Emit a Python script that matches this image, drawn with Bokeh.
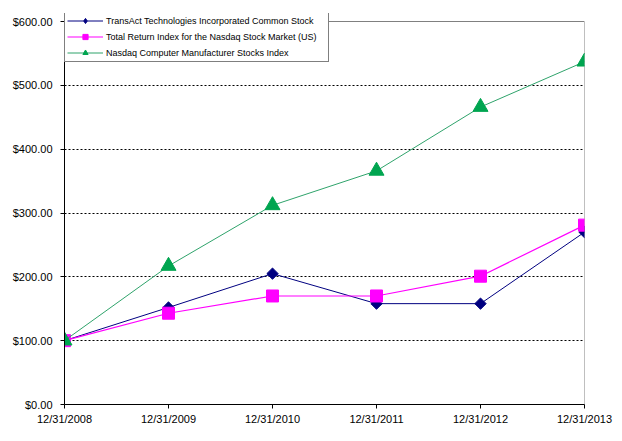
import math
from bokeh.plotting import figure
from bokeh.models import Range1d, FixedTicker, NumeralTickFormatter, Legend, LegendItem, Span
from bokeh.embed import file_html
from bokeh.resources import INLINE

dates = ["12/31/2008", "12/31/2009", "12/31/2010", "12/31/2011", "12/31/2012", "12/31/2013"]
transact = [100, 152, 205, 158, 158, 270]
nasdaq_total = [100, 143, 170, 170, 201, 281]
nasdaq_computer = [100, 217, 312, 366, 466, 537]
y_ticks = [0, 100, 200, 300, 400, 500, 600]

names = [
    "TransAct Technologies Incorporated Common Stock",
    "Total Return Index for the Nasdaq Stock Market (US)",
    "Nasdaq Computer Manufacturer Stocks Index",
]

x = list(range(len(dates)))
FONT = "Liberation Sans"

# frame extends 8px above the $600 line so the legend can overlap it
y_top = y_ticks[-1] * 391.0 / 383.0

p = figure(width=614, height=433, output_backend="svg", toolbar_location=None,
           x_range=Range1d(0, len(dates) - 1), y_range=Range1d(0, y_top))
p.min_border_left = 64
p.min_border_right = 30
p.min_border_top = 13
p.min_border_bottom = 29
p.background_fill_color = "white"
p.border_fill_color = "white"
p.outline_line_color = None

p.xgrid.visible = False
p.ygrid.ticker = FixedTicker(ticks=y_ticks[1:-1])
p.ygrid.grid_line_color = "black"
p.ygrid.grid_line_dash = "2 2"
p.ygrid.grid_line_width = 1

# plot-area border (top and right, grey)
p.add_layout(Span(location=y_ticks[-1], dimension="width", line_color="#808080", line_width=1))
p.segment(x0=[x[-1]], y0=[y_ticks[0]], x1=[x[-1]], y1=[y_ticks[-1]], line_color="#808080", line_width=1)

p.xaxis.ticker = FixedTicker(ticks=x)
p.xaxis.major_label_overrides = {i: d for i, d in enumerate(dates)}
p.yaxis.ticker = FixedTicker(ticks=y_ticks)
p.yaxis.formatter = NumeralTickFormatter(format="$0.00")
p.yaxis.bounds = (y_ticks[0], y_ticks[-1])
for ax in (p.xaxis[0], p.yaxis[0]):
    ax.axis_line_color = "black"
    ax.axis_line_width = 1
    ax.major_tick_line_color = "black"
    ax.major_tick_in = 0
    ax.major_tick_out = 4
    ax.minor_tick_line_color = None
    ax.major_label_text_font = FONT
    ax.major_label_text_font_size = "11px"
    ax.major_label_text_color = "black"
p.yaxis.major_label_standoff = 8
p.xaxis.major_label_standoff = 4

l1 = p.line(x, transact, line_color="#000080", line_width=1)
m1 = p.scatter(x, transact, marker="square", angle=math.pi / 4, size=8,
               fill_color="#000080", line_color="#000080")
# legend-only diamond (zero size on the plot)
k1 = p.scatter(x, transact, marker="diamond", size=0, fill_color="#000080", line_color="#000080")
l2 = p.line(x, nasdaq_total, line_color="#FF00FF", line_width=1.2)
m2 = p.scatter(x, nasdaq_total, marker="square", size=12, fill_color="#FF00FF", line_color="#FF00FF")
l3 = p.line(x, nasdaq_computer, line_color="#2FA36B", line_width=1)
m3 = p.scatter(x, nasdaq_computer, marker="triangle", size=15, fill_color="#00A550", line_color="#00A550")

legend = Legend(items=[
    LegendItem(label=names[0], renderers=[l1, k1]),
    LegendItem(label=names[1], renderers=[l2, m2]),
    LegendItem(label=names[2], renderers=[l3, m3]),
], location=(0, 342))
legend.margin = 0
legend.padding = 2
legend.spacing = 3
legend.label_height = 13
legend.glyph_height = 13
legend.glyph_width = 36
legend.label_standoff = 3
legend.label_width = 220
legend.label_text_font = FONT
legend.label_text_font_size = "9px"
legend.label_text_color = "black"
legend.border_line_color = "black"
legend.border_line_width = 1
legend.background_fill_color = "white"
legend.background_fill_alpha = 1
p.add_layout(legend, "center")

open("out.html", "w").write(file_html(p, INLINE))
